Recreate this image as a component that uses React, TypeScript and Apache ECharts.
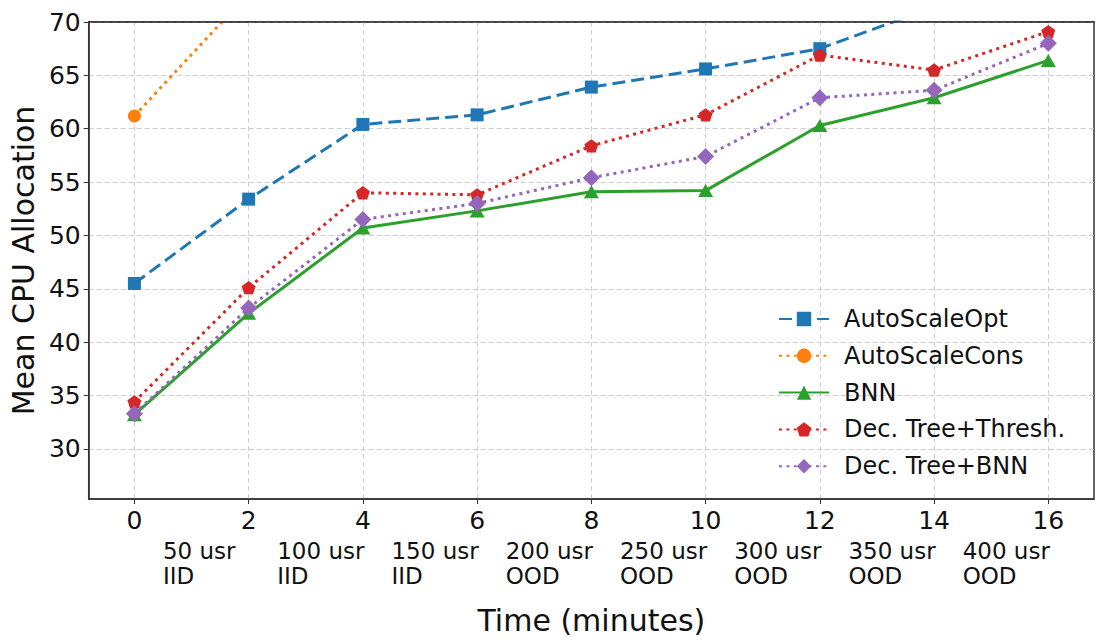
import React, { useEffect, useRef } from "react";
import * as echarts from "echarts";

const times = [0, 2, 4, 6, 8, 10, 12, 14, 16];
const xTicks = [0, 2, 4, 6, 8, 10, 12, 14, 16];
const yTicks = [30, 35, 40, 45, 50, 55, 60, 65, 70];

const autoScaleOpt = [45.5, 53.4, 60.4, 61.3, 63.9, 65.6, 67.5, 71.4, 73.5];
const autoScaleCons = [61.2, 72.7, 80.0, 83.0, 86.0, 88.0, 90.0, 92.0, 94.0];
const bnn = [33.2, 42.7, 50.7, 52.3, 54.1, 54.2, 60.3, 62.9, 66.4];
const decTreeThresh = [34.4, 45.1, 54.0, 53.8, 58.4, 61.3, 66.9, 65.5, 69.1];
const decTreeBNN = [33.3, 43.2, 51.5, 53.0, 55.4, 57.4, 62.9, 63.6, 68.0];

const scenarioPos = [0.5, 2.5, 4.5, 6.5, 8.5, 10.5, 12.5, 14.5];
const scenarioUsers = ["50 usr", "100 usr", "150 usr", "200 usr", "250 usr", "300 usr", "350 usr", "400 usr"];
const scenarioDist = ["IID", "IID", "IID", "OOD", "OOD", "OOD", "OOD", "OOD"];

const FONT = "DejaVu Sans";
const PENTAGON = "path://M0,-1 L0.951,-0.309 L0.588,0.809 L-0.588,0.809 L-0.951,-0.309 Z";

function pairs(vals: number[]) {
  return times.map((t, i) => [t, vals[i]]);
}

export default function App() {
  const ref = useRef<HTMLDivElement>(null);
  useEffect(() => {
    if (!ref.current) return;
    const chart = echarts.init(ref.current, null, { renderer: "svg" });
    const gridLine = { show: true, lineStyle: { color: "#cfcfcf", type: [5, 3] as any, width: 1 } };
    const dotted = [3, 4.4] as any;
    chart.setOption({
      animation: false,
      backgroundColor: "#ffffff",
      textStyle: { fontFamily: FONT },
      grid: {
        left: 88.5,
        right: 7,
        top: 22,
        bottom: 143,
        show: true,
        borderColor: "#333333",
        borderWidth: 1.5,
        backgroundColor: "transparent",
        containLabel: false,
      },
      xAxis: [
        {
          type: "value",
          min: -0.8,
          max: 16.8,
          name: "Time (minutes)",
          nameLocation: "middle",
          nameGap: 106,
          nameTextStyle: { fontSize: 30, color: "#111", fontFamily: FONT },
          axisLine: { show: true, onZero: false, lineStyle: { color: "#333", width: 1.5 } },
          axisTick: { show: true, length: 5, customValues: xTicks, lineStyle: { color: "#333" } },
          axisLabel: { fontSize: 25, color: "#111", margin: 9, fontFamily: FONT, customValues: xTicks },
          splitLine: gridLine,
        },
        {
          type: "value",
          min: -0.8,
          max: 16.8,
          position: "bottom",
          offset: 0,
          axisLine: { show: false, onZero: false },
          axisTick: { show: false },
          splitLine: { show: false },
          axisLabel: {
            show: true,
            customValues: scenarioPos,
            align: "left",
            margin: 39,
            fontSize: 23,
            lineHeight: 25,
            color: "#111",
            fontFamily: FONT,
            formatter: (v: number) => {
              const i = scenarioPos.findIndex((p) => Math.abs(p - v) < 1e-6);
              return i >= 0 ? scenarioUsers[i] + "\n" + scenarioDist[i] : "";
            },
          },
        },
        {
          type: "value",
          min: -0.8,
          max: 16.8,
          position: "top",
          z: 5,
          axisLine: { show: true, onZero: false, lineStyle: { color: "#333", width: 1.5 } },
          axisTick: { show: false },
          splitLine: { show: false },
          axisLabel: { show: false },
        },
      ],
      yAxis: {
        type: "value",
        min: 25.3,
        max: 70,
        name: "Mean CPU Allocation",
        nameLocation: "middle",
        nameGap: 50,
        nameTextStyle: { fontSize: 30, color: "#111", fontFamily: FONT },
        axisLine: { show: true, onZero: false, lineStyle: { color: "#333", width: 1.5 } },
        axisTick: { show: true, length: 5, customValues: yTicks, lineStyle: { color: "#333" } },
        axisLabel: { fontSize: 25, color: "#111", margin: 8, fontFamily: FONT, customValues: yTicks },
        splitLine: gridLine,
      },
      legend: {
        orient: "vertical",
        left: 773,
        top: 302,
        itemWidth: 50,
        itemHeight: 18,
        itemGap: 12.8,
        textStyle: { fontSize: 24, color: "#111", fontFamily: FONT, padding: [0, 0, 0, 10] },
        data: ["AutoScaleOpt", "AutoScaleCons", "BNN", "Dec. Tree+Thresh.", "Dec. Tree+BNN"],
      },
      series: [
        {
          name: "AutoScaleOpt",
          type: "line",
          data: pairs(autoScaleOpt),
          symbol: "rect",
          symbolSize: 13,
          itemStyle: { color: "#1f77b4" },
          lineStyle: { color: "#1f77b4", width: 3, type: [13, 6] as any },
        },
        {
          name: "AutoScaleCons",
          type: "line",
          data: pairs(autoScaleCons),
          symbol: "circle",
          symbolSize: 13,
          itemStyle: { color: "#ff7f0e" },
          lineStyle: { color: "#ff7f0e", width: 3, type: dotted },
        },
        {
          name: "BNN",
          type: "line",
          data: pairs(bnn),
          symbol: "triangle",
          symbolSize: [15, 13],
          itemStyle: { color: "#2ca02c" },
          lineStyle: { color: "#2ca02c", width: 3 },
        },
        {
          name: "Dec. Tree+Thresh.",
          type: "line",
          data: pairs(decTreeThresh),
          symbol: PENTAGON,
          symbolSize: [14, 13.3],
          itemStyle: { color: "#d62728" },
          lineStyle: { color: "#d62728", width: 3, type: dotted },
        },
        {
          name: "Dec. Tree+BNN",
          type: "line",
          data: pairs(decTreeBNN),
          symbol: "diamond",
          symbolSize: 17,
          itemStyle: { color: "#9467bd" },
          lineStyle: { color: "#9467bd", width: 3, type: dotted },
        },
      ],
    });
    return () => chart.dispose();
  }, []);
  return (
    <div
      ref={ref}
      style={{ position: "absolute", left: 0, top: 0, width: 1101, height: 642 }}
    />
  );
}
